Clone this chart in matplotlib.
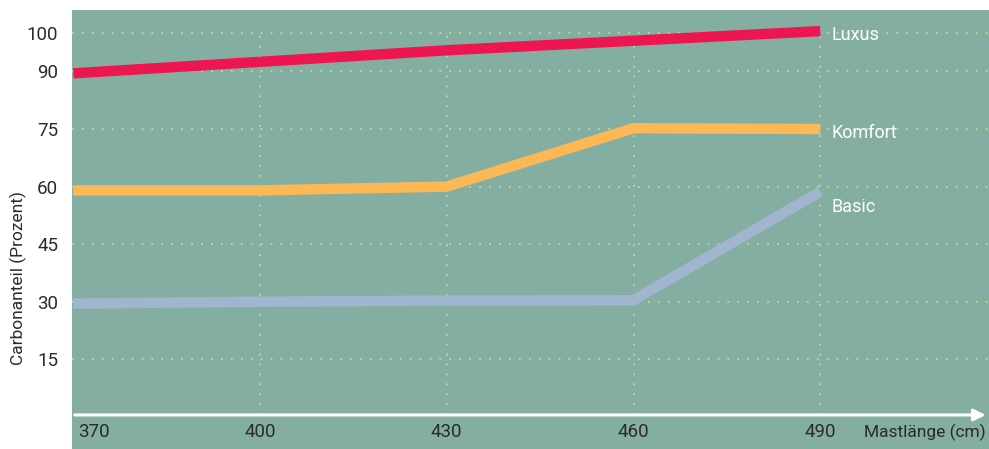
import matplotlib.pyplot as plt

# Daten
mastlaenge = [370, 400, 430, 460, 490]
luxus = [89.5, 92.5, 95.5, 98.0, 100.5]
komfort = [59.0, 59.0, 60.0, 75.2, 75.0]
basic = [29.5, 30.0, 30.3, 30.4, 58.7]

serien = ["Luxus", "Komfort", "Basic"]
label_y = [99.6, 73.9, 54.8]
y_ticks = [15, 30, 45, 60, 75, 90, 100]

plt.rcParams['font.family'] = ['Roboto', 'DejaVu Sans']

bg = '#85aea3'
grid_col = '#b9de8e'
text_col = '#2b2b2b'
farben = ['#ee1650', '#fdb856', '#a2b5ce']

fig = plt.figure(figsize=(9.89, 4.49), dpi=100)
ax = fig.add_axes([72 / 989, 0, 1 - 72 / 989, 439 / 449])
ax.set_facecolor(bg)
ax.set_xlim(369.8, 517.1)
ax.set_ylim(-8.37, 106.0)

# Gitter (gepunktet)
for yv in y_ticks:
    ax.axhline(yv, color=grid_col, linestyle=(0, (1, 4.5)), linewidth=1.3, zorder=1)
ax.vlines(mastlaenge[1:], 0.5, 100, color=grid_col, linestyle=(0, (1, 4.5)),
          linewidth=1.3, zorder=1)

# Linien
for werte, farbe in zip([luxus, komfort, basic], farben):
    ax.plot(mastlaenge, werte, color=farbe, linewidth=7.5,
            solid_capstyle='butt', solid_joinstyle='miter', zorder=3)

# Serienbeschriftung
for name, yv in zip(serien, label_y):
    ax.text(491.8, yv, name, color='white', fontsize=13, va='center', ha='left', zorder=4)

# x-Achse mit Pfeil
ax.annotate('', xy=(517.0, 0.5), xytext=(369.8, 0.5),
            arrowprops=dict(arrowstyle='-|>,head_length=0.7,head_width=0.35',
                            color='white', linewidth=2.2), zorder=5)

# x-Beschriftungen
for i, xv in enumerate(mastlaenge):
    ax.text(xv + (0.8 if i == 0 else 0), -4.0, str(xv), color=text_col, fontsize=13.5,
            ha='left' if i == 0 else 'center', va='center')
ax.text(516.6, -4.0, "Mastlänge (cm)", color=text_col, fontsize=12.5, ha='right', va='center')

# y-Achse
ax.set_yticks(y_ticks)
ax.set_yticklabels([str(v) for v in y_ticks], fontsize=13.5, color=text_col)
ax.tick_params(axis='y', length=0, pad=10)
ax.set_xticks([])
for s in ax.spines.values():
    s.set_visible(False)

fig.text(18 / 989, 1 - 278 / 449, "Carbonanteil (Prozent)", rotation=90,
         fontsize=12.5, color=text_col, ha='center', va='center')

fig.savefig('out.png', dpi=100, facecolor='white')
